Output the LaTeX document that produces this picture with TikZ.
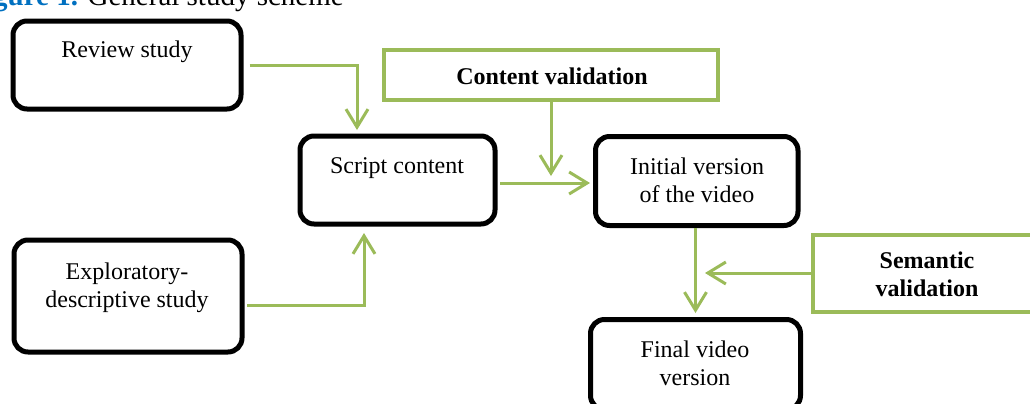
\documentclass[tikz,border=0pt]{standalone}
\usepackage{fontspec}
\setmainfont{Liberation Serif}
\usetikzlibrary{arrows.meta,calc}
\definecolor{vgreen}{HTML}{9BBB59}
\definecolor{capblue}{HTML}{0070C0}
\begin{document}
\begin{tikzpicture}[x=0.5pt,y=-0.5pt,
  bbox/.style={draw=black, line width=2.5pt, rounded corners=7pt, rectangle, inner sep=0pt, fill=white},
  gbox/.style={draw=vgreen, line width=2pt, rectangle, inner sep=0pt, fill=white},
  txt/.style={font=\fontsize{12}{14}\selectfont, align=center, anchor=base, inner sep=0pt},
  btxt/.style={font=\fontsize{12}{14}\selectfont\bfseries, align=center, anchor=base, inner sep=0pt},
  garrow/.style={draw=vgreen, line width=1.5pt, -{Straight Barb[length=9pt,width=11pt]}}]
\useasboundingbox (0,0) rectangle (1030,403);
\clip (0,0) rectangle (1030,403);

% caption (cut off at top)
\node[anchor=base west, inner sep=0pt, font=\fontsize{14.5}{17}\selectfont] (cap) at (-33,5)
  {\textcolor{capblue}{\bfseries Figure 1.} General study scheme};

% boxes
\node[bbox, minimum width=114pt, minimum height=44pt] (rev) at (127,65) {};
\node[bbox, minimum width=114pt, minimum height=56pt] (exp) at (128,296) {};
\node[bbox, minimum width=97.5pt, minimum height=44pt] (script) at (397.5,180) {};
\node[bbox, minimum width=101.25pt, minimum height=44.5pt] (init) at (696.75,181) {};
\node[bbox, minimum width=105pt, minimum height=45pt] (final) at (695.5,364.5) {};
\node[gbox, minimum width=167pt, minimum height=24.75pt] (cv) at (551,74.75) {};
\node[gbox, minimum width=113.75pt, minimum height=38.5pt] (sem) at (926.25,273) {};

% texts (base = baseline of last line)
\node[txt] (revt) at (127,57) {Review study};
\node[txt] (scriptt) at (397,173) {Script content};
\node[txt] (initt) at (697,202) {Initial version\\of the video};
\node[txt] (finalt) at (695,385) {Final video\\version};
\node[txt] (expt) at (127,307) {Exploratory-\\descriptive study};
\node[btxt] (cvt) at (552,84) {Content validation};
\node[btxt] (semt) at (927,296) {Semantic\\validation};

% free ends
\coordinate (cvtip) at (551,176);
\coordinate (semtip) at (705,273);

% connectors
\draw[garrow] ([xshift=3pt]rev.east) -| ([xshift=-20.25pt,yshift=1.75pt]script.north);
\draw[garrow] (cv.south) -- (cvtip);
\draw[garrow] ([shift={(1.25pt,-1.5pt)}]script.east) -- ([shift={(-1.5pt,-1pt)}]init.west);
\draw[garrow] (final.north |- init.south) -- ([yshift=2pt]final.north);
\draw[garrow] (sem.west) -- (semtip);
\draw[garrow] ([xshift=1.25pt,yshift=-4.5pt]exp.east) -| ([xshift=-16.75pt,yshift=-3.25pt]script.south);
\end{tikzpicture}
\end{document}
